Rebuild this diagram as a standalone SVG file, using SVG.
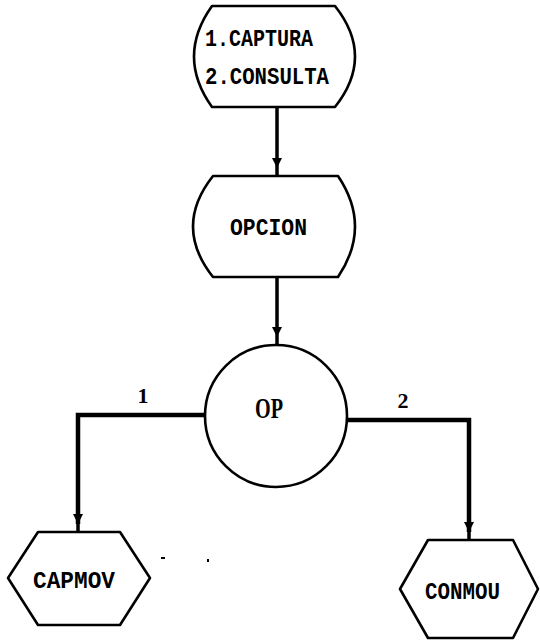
<svg xmlns="http://www.w3.org/2000/svg" width="540" height="644" viewBox="0 0 540 644">
  <style>
    .shape { fill: #fff; stroke: #000; stroke-width: 2.6; stroke-linejoin: round; }
    .wire { fill: none; stroke: #000; stroke-width: 3.5; }
    .bar { fill: none; stroke: #000; stroke-width: 4.5; }
    .lbl { font-family: "Liberation Mono", "DejaVu Sans Mono", monospace; font-weight: bold; font-size: 23px; fill: #000; }
    .num { font-family: "Liberation Serif", "DejaVu Serif", serif; font-weight: bold; font-size: 22px; fill: #000; }
    .big { font-size: 29px; }
  </style>
  <defs>
    <marker id="arrow" viewBox="0 0 10 12" refX="10" refY="6" markerWidth="10" markerHeight="12" markerUnits="userSpaceOnUse" orient="auto">
      <path d="M0,1 L10,6 L0,11 Z" fill="#000"/>
    </marker>
  </defs>
  <rect width="540" height="644" fill="#fff"/>

  <g id="connectors">
    <line class="wire" x1="277" y1="107" x2="277" y2="168" marker-end="url(#arrow)"/>
    <line class="wire" x1="277" y1="168" x2="277" y2="176"/>
    <line class="wire" x1="277" y1="277" x2="277" y2="337" marker-end="url(#arrow)"/>
    <line class="wire" x1="277" y1="337" x2="277" y2="345"/>
    <polyline class="bar" points="205,415 78,415 78,524" marker-end="url(#arrow)"/>
    <line class="wire" x1="78" y1="524" x2="78" y2="532"/>
    <polyline class="bar" points="347,420 469,420 469,532" marker-end="url(#arrow)"/>
    <line class="wire" x1="469" y1="532" x2="469" y2="540"/>
    <text class="num" x="143" y="403" text-anchor="middle">1</text>
    <text class="num" x="403" y="408" text-anchor="middle">2</text>
  </g>

  <g id="menu">
    <path class="shape" d="M212,6 L335,6 Q375,56.5 335,107 L212,107 Q176,56.5 212,6 Z"/>
    <text class="lbl" x="205" y="46" textLength="108" lengthAdjust="spacingAndGlyphs">1.CAPTURA</text>
    <text class="lbl" x="205" y="84" textLength="124" lengthAdjust="spacingAndGlyphs">2.CONSULTA</text>
  </g>

  <g id="opcion">
    <path class="shape" d="M213,176 L338,176 Q372,226.5 338,277 L213,277 Q173,226.5 213,176 Z"/>
    <text class="lbl" x="230" y="235" textLength="77" lengthAdjust="spacingAndGlyphs">OPCION</text>
  </g>

  <g id="op">
    <circle class="shape" cx="276" cy="416" r="71"/>
    <text class="num big" x="255" y="418" textLength="28" lengthAdjust="spacingAndGlyphs">OP</text>
  </g>

  <g id="capmov">
    <polygon class="shape" points="38,532 120,532 150,578 120,625 38,625 8,578"/>
    <text class="lbl" x="33" y="588" textLength="82" lengthAdjust="spacingAndGlyphs">CAPMOV</text>
  </g>

  <g id="conmou">
    <polygon class="shape" points="428,540 513,540 538,589 513,638 428,638 400,589"/>
    <text class="lbl" x="425" y="599" textLength="75" lengthAdjust="spacingAndGlyphs">CONMOU</text>
  </g>

  <!-- stray specks -->
  <rect x="161" y="557" width="4" height="2" fill="#000"/>
  <rect x="207" y="559" width="2" height="3" fill="#000"/>
</svg>
